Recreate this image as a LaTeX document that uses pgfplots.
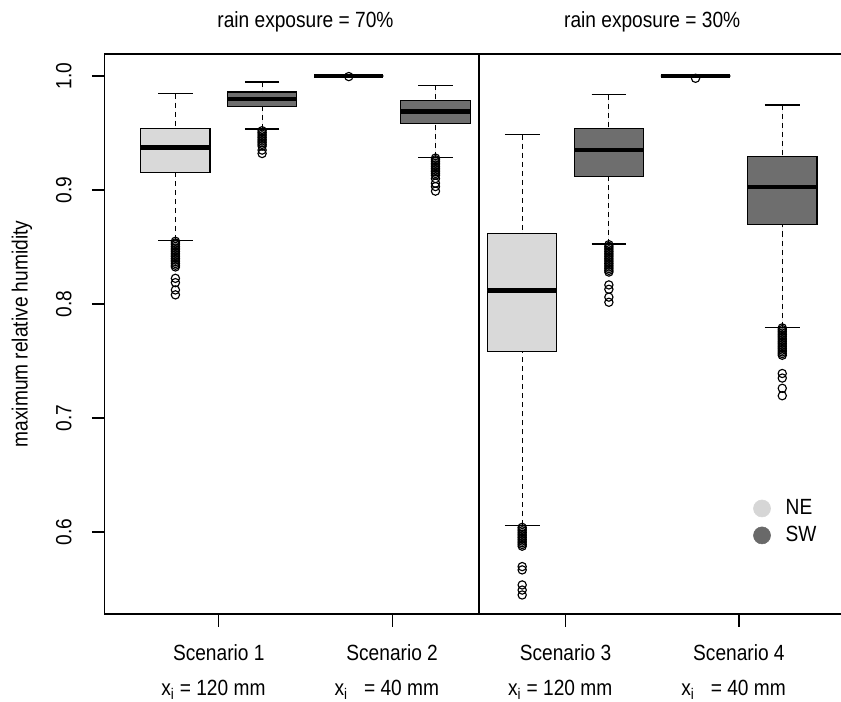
\documentclass[border=0pt]{standalone}
\usepackage{fontspec}
\setmainfont{Liberation Sans}[FakeStretch=0.87]
\usepackage{pgfplots}
\pgfplotsset{compat=1.18}
\usepgfplotslibrary{statistics}
\definecolor{NEc}{RGB}{217,217,217}
\definecolor{SWc}{RGB}{110,110,110}
\definecolor{NEleg}{RGB}{214,214,214}
\definecolor{SWleg}{RGB}{105,105,105}
\pgfplotsset{
  rbox/.style={
    forget plot,
    boxplot/draw direction=y,
    draw=black, line width=0.9pt,
    mark=o, mark size=3.1pt, mark options={solid, line width=0.85pt, fill=none, draw=black},
    boxplot/box extend=0.4,
    boxplot/whisker extend=0.2,
    boxplot/every median/.style={line width=3.4pt},
    boxplot/draw/lower whisker/.code={
      \draw[dash pattern=on 3.8pt off 3pt, line width=0.85pt] (boxplot box cs:\pgfplotsboxplotvalue{lower whisker},0.5) -- (boxplot box cs:\pgfplotsboxplotvalue{lower quartile},0.5);
      \draw[line width=0.85pt] (boxplot whisker cs:\pgfplotsboxplotvalue{lower whisker},0) -- (boxplot whisker cs:\pgfplotsboxplotvalue{lower whisker},1);
    },
    boxplot/draw/upper whisker/.code={
      \draw[dash pattern=on 3.8pt off 3pt, line width=0.85pt] (boxplot box cs:\pgfplotsboxplotvalue{upper whisker},0.5) -- (boxplot box cs:\pgfplotsboxplotvalue{upper quartile},0.5);
      \draw[line width=0.85pt] (boxplot whisker cs:\pgfplotsboxplotvalue{upper whisker},0) -- (boxplot whisker cs:\pgfplotsboxplotvalue{upper whisker},1);
    },
  },
}
\begin{document}
\fontsize{16.5pt}{19.8pt}\selectfont
\begin{tikzpicture}
\useasboundingbox (0,0) rectangle (630.75pt,525.75pt);
\begin{axis}[
  at={(78.375pt,65.25pt)}, anchor=south west,
  width=561.5pt, height=420pt, scale only axis,
  xmin=0.341, xmax=4.659, ymin=0.528, ymax=1.0193,
  clip=false,
  xtick={1,2,3,4}, xticklabels={Scenario 1,Scenario 2,Scenario 3,Scenario 4},
  ytick={0.6,0.7,0.8,0.9,1.0}, yticklabels={0.6,0.7,0.8,0.9,1.0},
  tick align=outside, major tick length=9.5pt,
  xtick pos=bottom, ytick pos=left,
  tick style={black, line width=0.9pt},
  axis line style={line width=1.2pt, black},
  yticklabel style={rotate=90, anchor=south, yshift=9.5pt},
  xticklabel style={anchor=north, yshift=-8pt},
  ylabel={maximum relative humidity},
  ylabel style={at={(rel axis cs:0,0.5)}, anchor=center, yshift=62pt},
  legend style={draw=none, fill=none, at={(rel axis cs:0.857,0.1643)}, anchor=west, row sep=3.3pt, nodes={inner sep=1.5pt}},
  legend cell align=left,
  legend image code/.code={\path (0cm,0cm) (0.865cm,0cm); \draw[#1] plot coordinates {(0.3cm,0cm)};},
]
\addlegendimage{only marks, mark=*, mark size=6.4pt, color=NEleg}
\addlegendentry{NE}
\addlegendimage{only marks, mark=*, mark size=6.4pt, color=SWleg}
\addlegendentry{SW}

% Scenario 1
\addplot[rbox, fill=NEc, boxplot prepared={draw position=0.75, lower whisker=0.856, lower quartile=0.9155, median=0.9375, upper quartile=0.954, upper whisker=0.9845}]
  table[row sep=\\, y index=0] {0.855\\0.8535\\0.852\\0.8505\\0.849\\0.8475\\0.846\\0.8445\\0.843\\0.8415\\0.840\\0.8385\\0.837\\0.8355\\0.834\\0.8325\\0.8225\\0.8187\\0.8123\\0.808\\};
\addplot[rbox, fill=SWc, boxplot prepared={draw position=1.25, lower whisker=0.9535, lower quartile=0.973, median=0.980, upper quartile=0.986, upper whisker=0.9947}]
  table[row sep=\\, y index=0] {0.952\\0.9505\\0.949\\0.9475\\0.946\\0.9445\\0.943\\0.9415\\0.940\\0.9385\\0.935\\0.932\\};
% Scenario 2
\addplot[rbox, fill=NEc, boxplot prepared={draw position=1.75, lower whisker=1.0, lower quartile=1.0, median=1.0, upper quartile=1.0, upper whisker=1.0}]
  table[row sep=\\, y index=0] {0.9995\\};
\addplot[rbox, fill=SWc, boxplot prepared={draw position=2.25, lower whisker=0.9287, lower quartile=0.9585, median=0.9687, upper quartile=0.9787, upper whisker=0.992}]
  table[row sep=\\, y index=0] {0.928\\0.9265\\0.925\\0.9235\\0.922\\0.9205\\0.919\\0.9175\\0.916\\0.9145\\0.913\\0.910\\0.906\\0.903\\0.899\\};
% Scenario 3
\addplot[rbox, fill=NEc, boxplot prepared={draw position=2.75, lower whisker=0.606, lower quartile=0.758, median=0.8116, upper quartile=0.8616, upper whisker=0.9486}]
  table[row sep=\\, y index=0] {0.604\\0.6025\\0.601\\0.5995\\0.598\\0.5965\\0.595\\0.5935\\0.592\\0.5905\\0.589\\0.5875\\0.5696\\0.5667\\0.5535\\0.549\\0.5447\\};
\addplot[rbox, fill=SWc, boxplot prepared={draw position=3.25, lower whisker=0.8526, lower quartile=0.9116, median=0.9351, upper quartile=0.9536, upper whisker=0.9836}]
  table[row sep=\\, y index=0] {0.852\\0.8505\\0.849\\0.8475\\0.846\\0.8445\\0.843\\0.8415\\0.840\\0.8385\\0.837\\0.8355\\0.834\\0.8325\\0.831\\0.8295\\0.828\\0.8167\\0.8129\\0.806\\0.8015\\};
% Scenario 4
\addplot[rbox, fill=NEc, boxplot prepared={draw position=3.75, lower whisker=1.0, lower quartile=1.0, median=1.0, upper quartile=1.0, upper whisker=1.0}]
  table[row sep=\\, y index=0] {0.998\\};
\addplot[rbox, fill=SWc, boxplot prepared={draw position=4.25, lower whisker=0.7796, lower quartile=0.8696, median=0.9026, upper quartile=0.9296, upper whisker=0.9746}]
  table[row sep=\\, y index=0] {0.779\\0.7775\\0.776\\0.7745\\0.773\\0.7715\\0.770\\0.7685\\0.767\\0.7655\\0.764\\0.7625\\0.761\\0.7595\\0.758\\0.7565\\0.755\\0.739\\0.735\\0.726\\0.7195\\};

\draw[line width=2pt, black] (axis cs:2.5,0.528) -- (axis cs:2.5,1.0193);
\node at ([yshift=24pt]axis cs:1.5,1.0193) {rain exposure = 70\%};
\node at ([yshift=24pt]axis cs:3.5,1.0193) {rain exposure = 30\%};
\node at ([yshift=-57pt, xshift=-4pt]axis cs:1,0.528) {x\textsubscript{i} = 120 mm};
\node at ([yshift=-57pt, xshift=-4pt]axis cs:2,0.528) {x\textsubscript{i}\hspace{0.5em} = 40 mm};
\node at ([yshift=-57pt, xshift=-4pt]axis cs:3,0.528) {x\textsubscript{i} = 120 mm};
\node at ([yshift=-57pt, xshift=-4pt]axis cs:4,0.528) {x\textsubscript{i}\hspace{0.5em} = 40 mm};
\end{axis}
\end{tikzpicture}
\end{document}
